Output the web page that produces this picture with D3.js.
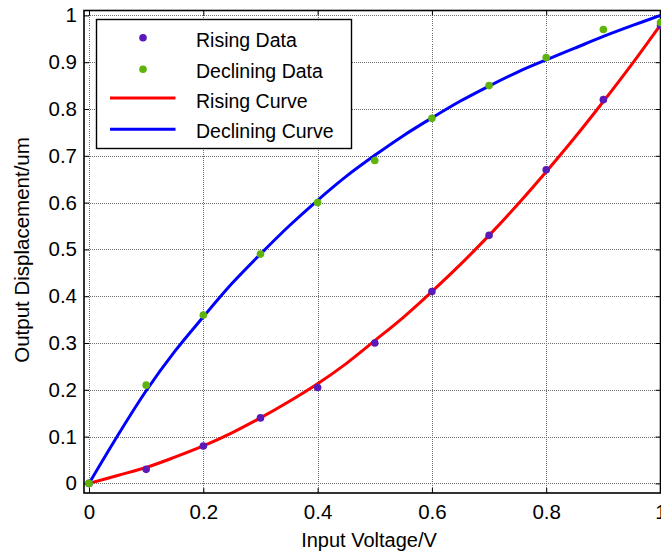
<!DOCTYPE html>
<html>
<head>
<meta charset="utf-8">
<script src="https://cdn.jsdelivr.net/npm/d3@7"></script>
<style>
  html, body { margin: 0; padding: 0; background: #fff; }
  svg { display: block; font-family: Arial, "Liberation Sans", sans-serif; }
</style>
</head>
<body>
<svg id="chart" width="661" height="554"></svg>
<script>
// Input voltage sample points (V)
const voltage = [0, 0.1, 0.2, 0.3, 0.4, 0.5, 0.6, 0.7, 0.8, 0.9, 1.0];
// Measured displacement while the voltage rises (um)
const risingData = [0, 0.03, 0.08, 0.14, 0.205, 0.30, 0.41, 0.53, 0.67, 0.82, 0.978];
// Measured displacement while the voltage falls (um)
const decliningData = [0, 0.21, 0.36, 0.49, 0.60, 0.69, 0.78, 0.85, 0.91, 0.97, 0.985];

// Fitted curves, sampled along the voltage axis
const curveVoltage = [0, 0.05, 0.1, 0.15, 0.2, 0.25, 0.3, 0.35, 0.4, 0.45, 0.5,
                      0.55, 0.6, 0.65, 0.7, 0.75, 0.8, 0.85, 0.9, 0.95, 1.0];
const risingCurve = [0, 0.017, 0.034, 0.056, 0.08, 0.108, 0.14, 0.175, 0.213, 0.256, 0.305,
                     0.355, 0.41, 0.468, 0.53, 0.596, 0.666, 0.739, 0.816, 0.896, 0.98];
const decliningCurve = [0, 0.102, 0.198, 0.282, 0.356, 0.427, 0.49, 0.55, 0.605, 0.656, 0.701,
                        0.743, 0.781, 0.817, 0.849, 0.879, 0.905, 0.93, 0.955, 0.978, 1.0];

const xTicks = [0, 0.2, 0.4, 0.6, 0.8, 1];
const yTicks = [0, 0.1, 0.2, 0.3, 0.4, 0.5, 0.6, 0.7, 0.8, 0.9, 1];

const legendItems = [
  { label: "Rising Data", type: "dot", color: "#5a1ab8" },
  { label: "Declining Data", type: "dot", color: "#5fb40c" },
  { label: "Rising Curve", type: "line", color: "#ff0000" },
  { label: "Declining Curve", type: "line", color: "#0000ff" }
];

const svg = d3.select("#chart");
const plot = { left: 84, right: 660.5, top: 10.5, bottom: 493 };

const x = d3.scaleLinear().domain([-0.0088, 1]).range([plot.left, plot.right]);
const y = d3.scaleLinear().domain([-0.0205, 1.0105]).range([plot.bottom, plot.top]);

// grid
const grid = svg.append("g").attr("stroke", "#6e6e6e").attr("stroke-width", 1)
  .attr("stroke-dasharray", "1,1").attr("shape-rendering", "crispEdges");
grid.selectAll("line.gx").data(xTicks).join("line").attr("class", "gx")
  .attr("x1", d => Math.round(x(d)) + 0.5).attr("x2", d => Math.round(x(d)) + 0.5)
  .attr("y1", plot.top).attr("y2", plot.bottom);
grid.selectAll("line.gy").data(yTicks).join("line").attr("class", "gy")
  .attr("y1", d => Math.round(y(d)) + 0.5).attr("y2", d => Math.round(y(d)) + 0.5)
  .attr("x1", plot.left).attr("x2", plot.right);

// axes with inward ticks
const axisStyle = g => {
  g.select(".domain").remove();
  g.selectAll(".tick line").attr("stroke", "#000");
  g.selectAll(".tick text").attr("fill", "#000").attr("font-size", 20.5)
    .attr("font-family", "Arial, 'Liberation Sans', sans-serif");
};
svg.append("g").attr("transform", `translate(0,${plot.bottom})`)
  .call(d3.axisBottom(x).tickValues(xTicks).tickFormat(d3.format("")).tickSize(-5).tickPadding(11))
  .call(axisStyle);
svg.append("g").attr("transform", `translate(0,${plot.top})`)
  .call(d3.axisTop(x).tickValues(xTicks).tickFormat("").tickSize(-5))
  .call(axisStyle);
svg.append("g").attr("transform", `translate(${plot.left},0)`)
  .call(d3.axisLeft(y).tickValues(yTicks).tickFormat(d3.format("")).tickSize(-5).tickPadding(7))
  .call(axisStyle);
svg.append("g").attr("transform", `translate(${plot.right},0)`)
  .call(d3.axisRight(y).tickValues(yTicks).tickFormat("").tickSize(-5))
  .call(axisStyle);

// frame
svg.append("rect").attr("x", plot.left).attr("y", plot.top)
  .attr("width", plot.right - plot.left).attr("height", plot.bottom - plot.top)
  .attr("fill", "none").attr("stroke", "#000").attr("stroke-width", 1.6);

// fitted curves
const line = d3.line().x(d => x(d[0])).y(d => y(d[1])).curve(d3.curveCatmullRom);
const curves = [
  { vals: risingCurve, color: "#ff0000" },
  { vals: decliningCurve, color: "#0000ff" }
];
curves.forEach(c => {
  svg.append("path").datum(curveVoltage.map((v, i) => [v, c.vals[i]]))
    .attr("d", line).attr("fill", "none").attr("stroke", c.color)
    .attr("stroke-width", 3).attr("stroke-linejoin", "round");
});

// measured points
const series = [
  { vals: risingData, color: "#5a1ab8" },
  { vals: decliningData, color: "#5fb40c" }
];
series.forEach(s => {
  svg.append("g").selectAll("circle").data(voltage.map((v, i) => [v, s.vals[i]]))
    .join("circle").attr("cx", d => x(d[0])).attr("cy", d => y(d[1]))
    .attr("r", 3.8).attr("fill", s.color);
});

// legend
const lg = svg.append("g");
lg.append("rect").attr("x", 96.5).attr("y", 19.5).attr("width", 255).attr("height", 129)
  .attr("fill", "#fff").attr("stroke", "#000").attr("stroke-width", 1.4);
const markY = [37.7, 69.3, 98, 129.3];
const textY = [46.7, 78.3, 108.3, 138.3];
legendItems.forEach((it, i) => {
  if (it.type === "dot") {
    lg.append("circle").attr("cx", 143).attr("cy", markY[i]).attr("r", 3.8).attr("fill", it.color);
  } else {
    lg.append("line").attr("x1", 110).attr("x2", 175.5).attr("y1", markY[i]).attr("y2", markY[i])
      .attr("stroke", it.color).attr("stroke-width", 3);
  }
  lg.append("text").attr("x", 196).attr("y", textY[i])
    .attr("font-size", 19.5).attr("fill", "#000").text(it.label);
});

// axis titles
svg.append("text").attr("x", 369).attr("y", 547).attr("text-anchor", "middle")
  .attr("font-size", 20).attr("fill", "#000").text("Input Voltage/V");
svg.append("text").attr("transform", "translate(29,250) rotate(-90)").attr("text-anchor", "middle")
  .attr("font-size", 20.5).attr("fill", "#000").text("Output Displacement/um");
</script>
</body>
</html>
